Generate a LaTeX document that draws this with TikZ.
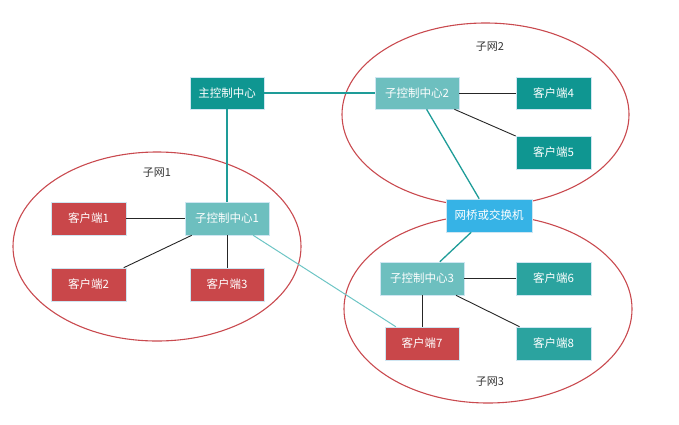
\documentclass[tikz,border=0pt]{standalone}
\usepackage{fontspec}
\newfontfamily\cjk{Noto Sans CJK SC}
\definecolor{cred}{HTML}{C9474A}
\definecolor{cteal}{HTML}{0F9691}
\definecolor{cteal2}{HTML}{2BA39F}
\definecolor{clight}{HTML}{6DBFBF}
\definecolor{cblue}{HTML}{36B3E6}
\definecolor{cring}{HTML}{C94A4F}
\definecolor{cline}{HTML}{1E9C98}
\definecolor{clinel}{HTML}{6DC5C5}
\definecolor{cedge}{HTML}{CFE6F2}
\definecolor{ctext}{HTML}{333333}
\tikzset{
  box/.style={draw=cedge, line width=0.6pt, minimum height=33pt, text=white,
    font=\cjk\fontsize{11.5}{13}\selectfont, inner sep=0pt},
  client/.style={box, minimum width=75pt},
  ctrl/.style={box, minimum width=84pt},
  ring/.style={draw=cring, line width=1.1pt},
  blk/.style={draw=black!85, line width=0.9pt},
  tl/.style={draw=cline, line width=1.3pt},
  tll/.style={draw=clinel, line width=1pt},
  lab/.style={text=ctext, font=\cjk\fontsize{11}{13}\selectfont}
}
\begin{document}
\begin{tikzpicture}[x=1pt,y=-1pt]
\useasboundingbox (0,0) rectangle (679,424);
% rings
\draw[ring] (157,246.5) ellipse [x radius=144, y radius=94.5];
\draw[ring] (485.5,114.5) ellipse [x radius=143.5, y radius=91.5];
\draw[ring] (488,309) ellipse [x radius=144, y radius=94];
% labels
\node[lab] (l1) at (157,173) {子网1};
\node[lab] (l2) at (490,47) {子网2};
\node[lab] (l3) at (490,382) {子网3};
% nodes
\node[box, fill=cteal, minimum width=74pt, minimum height=32pt] (main) at (227,93) {主控制中心};
\node[ctrl, fill=clight, minimum height=32pt] (s2) at (417,93) {子控制中心2};
\node[client, fill=cteal, minimum height=32pt] (c4) at (553.5,93) {客户端4};
\node[client, fill=cteal] (c5) at (553.5,152.5) {客户端5};
\node[ctrl, fill=clight] (s1) at (227,218.5) {子控制中心1};
\node[client, fill=cred] (c1) at (88.5,218.5) {客户端1};
\node[client, fill=cred] (c2) at (88.5,284.5) {客户端2};
\node[client, fill=cred, minimum width=74pt] (c3) at (227,284.5) {客户端3};
\node[box, fill=cblue, minimum width=86pt] (br) at (489,215.5) {网桥或交换机};
\node[ctrl, fill=clight] (s3) at (422,278.5) {子控制中心3};
\node[client, fill=cteal2] (c6) at (553.5,278.5) {客户端6};
\node[client, fill=cred, minimum width=74pt] (c7) at (422,343.5) {客户端7};
\node[client, fill=cteal2] (c8) at (553.5,343.5) {客户端8};
% edges
\draw[tl] (main) -- (s2);
\draw[tl] (main) -- (s1);
\draw[tl] (s2) -- (br);
\draw[tl] (br) -- (s3);
\draw[tll] (s1) -- (c7);
\draw[blk] (s2) -- (c4);
\draw[blk] (s2) -- (c5);
\draw[blk] (s1) -- (c1);
\draw[blk] (s1) -- (c2);
\draw[blk] (s1) -- (c3);
\draw[blk] (s3) -- (c6);
\draw[blk] (s3) -- (c7);
\draw[blk] (s3) -- (c8);
\end{tikzpicture}
\end{document}
